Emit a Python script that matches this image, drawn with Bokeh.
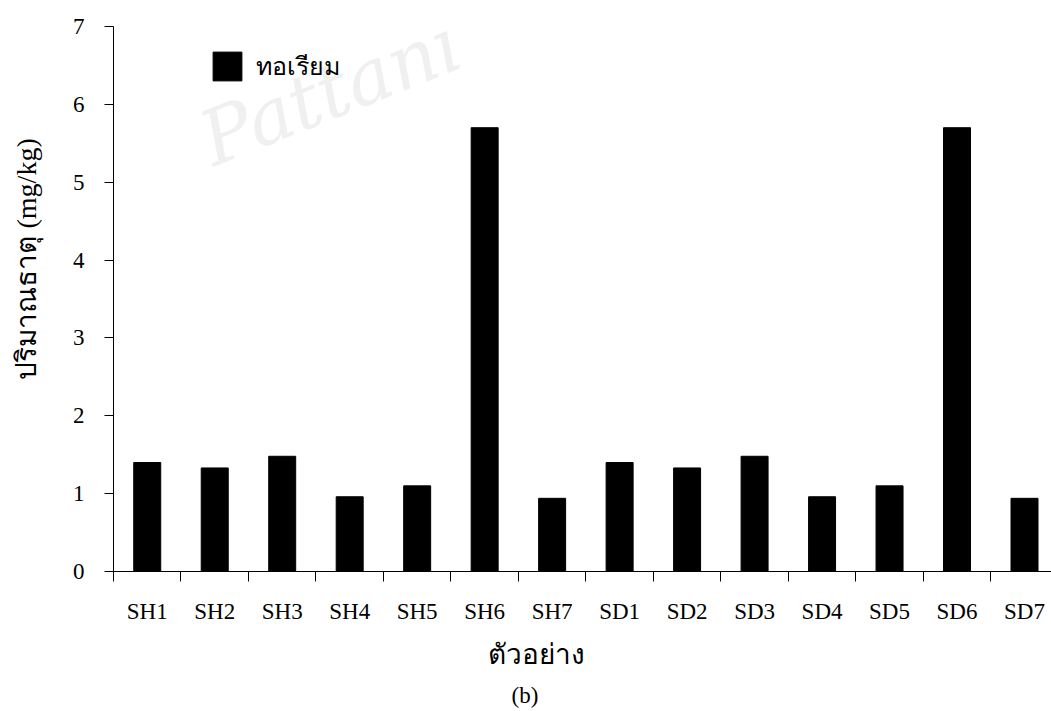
import math
from bokeh.plotting import figure
from bokeh.models import (Range1d, FixedTicker, Label, Legend, LegendItem, ColumnDataSource, Title)
from bokeh.embed import file_html
from bokeh.resources import INLINE

# ---- data ----
categories = ["SH1", "SH2", "SH3", "SH4", "SH5", "SH6", "SH7",
              "SD1", "SD2", "SD3", "SD4", "SD5", "SD6", "SD7"]
thorium = [1.40, 1.33, 1.48, 0.96, 1.10, 5.70, 0.94,
           1.40, 1.33, 1.48, 0.96, 1.10, 5.70, 0.94]
y_ticks = [0, 1, 2, 3, 4, 5, 6, 7]
series_name = "ทอเรียม"
x_title = "ตัวอย่าง"
y_title = "ปริมาณธาตุ (mg/kg)"
caption = "(b)"
watermark = "Pattani"

centers = [i + 0.5 for i in range(len(categories))]
bounds = list(range(len(categories) + 1))

SERIF = "Liberation Serif"
SANS = "Noto Sans"
MIXED = "Liberation Serif, Noto Sans"

p = figure(width=1051, height=711, output_backend="svg", toolbar_location=None,
           x_range=Range1d(0, 13.9), y_range=Range1d(0, 7),
           min_border_left=113, min_border_right=0, min_border_top=26, min_border_bottom=139)
p.outline_line_color = None
p.xgrid.visible = False
p.ygrid.visible = False
p.background_fill_color = "white"
p.border_fill_color = "white"

# faint watermark
p.add_layout(Label(x=217, y=480, x_units="screen", y_units="screen", text=watermark,
                   angle=0.38, text_align="center", text_baseline="middle",
                   text_font="DejaVu Serif", text_font_style="italic", text_font_size="76px",
                   text_color="#f0f0f0", level="underlay"))

src = ColumnDataSource(dict(x=centers, top=thorium, cat=categories))
r = p.vbar(x="x", top="top", width=0.4, source=src, fill_color="black", line_color="black")

# x axis: labels at category centres, ticks at category boundaries
xa = p.xaxis[0]
xa.ticker = FixedTicker(ticks=centers, minor_ticks=bounds)
xa.major_label_overrides = {c: n for c, n in zip(centers, categories)}
xa.major_tick_out = 0
xa.major_tick_in = 0
xa.minor_tick_out = 10
xa.minor_tick_in = 0
xa.minor_tick_line_color = "black"
xa.axis_line_color = "black"
xa.major_label_text_font = SERIF
xa.major_label_text_font_size = "23px"
xa.major_label_text_color = "black"
xa.major_label_standoff = 17

ya = p.yaxis[0]
ya.ticker = FixedTicker(ticks=y_ticks)
ya.major_tick_out = 9
ya.major_tick_in = 0
ya.minor_tick_out = 0
ya.minor_tick_in = 0
ya.axis_line_color = "black"
ya.major_tick_line_color = "black"
ya.major_label_text_font = SERIF
ya.major_label_text_font_size = "23px"
ya.major_label_text_color = "black"
ya.major_label_standoff = 20
ya.axis_label = " "
ya.axis_label_text_font_size = "1px"
ya.axis_label_standoff = 23

# legend
legend = Legend(items=[LegendItem(label=series_name, renderers=[r])],
                location=(96, 485), padding=0, margin=0, spacing=0,
                glyph_width=36, glyph_height=36, label_standoff=11,
                label_text_font=SANS, label_text_font_size="25px",
                label_text_color="black", label_text_baseline="middle",
                border_line_color=None, background_fill_alpha=0)
p.add_layout(legend)

# axis titles and caption
p.add_layout(Title(text=y_title, align="left", offset=192, vertical_align="middle",
                   standoff=0, text_font=MIXED, text_font_size="28px",
                   text_font_style="normal", text_color="black"), "left")
p.add_layout(Title(text=x_title, align="left", offset=374, vertical_align="middle",
                   standoff=12, text_font=SANS, text_font_size="28px",
                   text_font_style="normal", text_color="black"), "below")
p.add_layout(Title(text=caption, align="left", offset=398, vertical_align="middle",
                   standoff=6, text_font=SERIF, text_font_size="23px",
                   text_font_style="normal", text_color="black"), "below")

open("out.html", "w").write(file_html(p, INLINE))
